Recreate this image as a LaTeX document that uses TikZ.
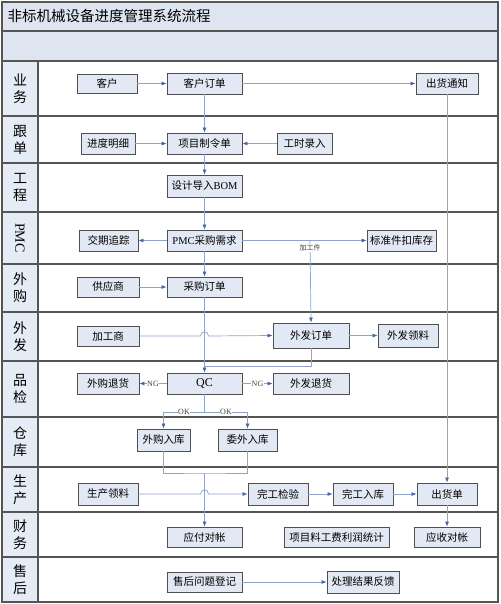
\documentclass[tikz,border=0pt]{standalone}
\usepackage{fontspec}
\setmainfont{Liberation Serif}
\newfontfamily\cjk{Noto Sans CJK SC}
\usetikzlibrary{arrows.meta}

\definecolor{boxfill}{HTML}{E3E9F4}
\definecolor{boxline}{HTML}{505050}
\definecolor{flowline}{HTML}{8FA4C8}
\definecolor{tipblue}{HTML}{4466AA}
\definecolor{bandfill}{HTML}{DEE5F1}
\definecolor{lanefill}{HTML}{E6ECF6}
\definecolor{laneline}{HTML}{555555}

\tikzset{
  box/.style={draw=boxline, fill=boxfill, line width=0.8pt, inner sep=1pt,
    minimum height=21pt, font=\cjk\fontsize{10.5}{12}\selectfont},
  flow/.style={draw=flowline, line width=0.7pt,
    -{Latex[length=5pt,width=4pt,color=tipblue]}},
  link/.style={draw=flowline, line width=0.7pt},
  tag/.style={fill=white, inner sep=0.6pt, text=black!75,
    font=\fontsize{8}{9}\selectfont},
  lanelabel/.style={align=center, font=\cjk\fontsize{14}{17}\selectfont},
}

\begin{document}
\begin{tikzpicture}[x=1pt, y=-1pt]
  \useasboundingbox (0,0) rectangle (500,604);

  % bands and lanes
  \fill[bandfill] (2,2) rectangle (498,61);
  \fill[lanefill] (2,61) rectangle (38,602);
  \node[anchor=west, font=\cjk\fontsize{14.5}{17}\selectfont] (title) at (4,16) {非标机械设备进度管理系统流程};
  \draw[laneline, line width=1.2pt] (2,31) -- (498,31);
  \foreach \ytop/\ybot/\lname in {61/116/业\\务, 116/163/跟\\单, 163/212/工\\程,
      264/312/外\\购, 312/361/外\\发, 361/417/品\\检, 417/467/仓\\库,
      467/512/生\\产, 512/557/财\\务, 557/602/售\\后}{
    \draw[laneline, line width=1.3pt] (2,\ytop) -- (498,\ytop);
    \node[lanelabel] at (20,{(\ytop+\ybot)/2}) {\lname};
  }
  \draw[laneline, line width=1.3pt] (2,212) -- (498,212);
  \node[rotate=-90, font=\fontsize{14}{16}\selectfont] (pmclane) at (20,238) {PMC};
  \draw[laneline, line width=1.2pt] (38,61) -- (38,602);
  \draw[laneline, line width=1.4pt] (2,2) rectangle (498,602);

  % boxes
  \node[box, minimum width=60pt, minimum height=19pt] (kh) at (107,83.5) {客户};
  \node[box, minimum width=75pt] (khdd) at (204.5,83.5) {客户订单};
  \node[box, minimum width=62pt] (chtz) at (447,83.5) {出货通知};

  \node[box, minimum width=54pt] (jdmx) at (108,143.5) {进度明细};
  \node[box, minimum width=75pt] (xmzld) at (204.5,143.5) {项目制令单};
  \node[box, minimum width=55pt] (gslr) at (304.5,143.5) {工时录入};

  \node[box, minimum width=75pt, minimum height=22pt] (sjbom) at (204.5,186) {设计导入{\rmfamily BOM}};

  \node[box, minimum width=59pt] (jqzz) at (108.5,240.5) {交期追踪};
  \node[box, minimum width=75pt] (pmccg) at (204.5,240.5) {{\rmfamily PMC}采购需求};
  \node[box, minimum width=69pt] (bzj) at (401.5,240.5) {标准件扣库存};

  \node[box, minimum width=62pt, minimum height=20pt] (gys) at (108,287) {供应商};
  \node[box, minimum width=75pt, minimum height=20pt] (cgdd) at (204.5,287) {采购订单};

  \node[box, minimum width=62pt, minimum height=20pt] (jgs) at (108,336) {加工商};
  \node[box, minimum width=76pt, minimum height=25pt] (wfdd) at (311,335.5) {外发订单};
  \node[box, minimum width=60pt, minimum height=23pt] (wfll) at (408,335.5) {外发领料};

  \node[box, minimum width=62pt] (wgth) at (108,383.5) {外购退货};
  \node[box, minimum width=75pt, font=\fontsize{12}{14}\selectfont] (qc) at (204.5,383.5) {QC};
  \node[box, minimum width=76pt] (wfth) at (311,383.5) {外发退货};

  \node[box, minimum width=53pt, minimum height=22pt] (wgrk) at (163.5,440) {外购入库};
  \node[box, minimum width=59pt, minimum height=22pt] (wwrk) at (247.5,440) {委外入库};

  \node[box, minimum width=60pt, minimum height=22pt] (scll) at (108,494) {生产领料};
  \node[box, minimum width=60pt, minimum height=22pt] (wgjy) at (278,494) {完工检验};
  \node[box, minimum width=60pt, minimum height=22pt] (wgrk2) at (363,494) {完工入库};
  \node[box, minimum width=60pt, minimum height=22pt] (chd) at (447,494) {出货单};

  \node[box, minimum width=75pt, minimum height=20pt] (yfdz) at (204.5,537) {应付对帐};
  \node[box, minimum width=105pt, minimum height=20pt] (xmtj) at (336.5,537) {项目料工费利润统计};
  \node[box, minimum width=66pt, minimum height=20pt] (yszd) at (447,537) {应收对帐};

  \node[box, minimum width=75pt, minimum height=20pt] (shdj) at (204.5,582) {售后问题登记};
  \node[box, minimum width=72pt, minimum height=22pt] (cljg) at (363,582) {处理结果反馈};

  % junctions
  \coordinate (jgj) at (310,240.5);
  \coordinate (wfback) at (204.5,366);
  \coordinate (qcsplit) at (204.5,412);
  \coordinate (rkmerge) at (204.5,473);

  % flows
  \draw[flow] (kh) -- (khdd);
  \draw[flow] (khdd) -- (chtz);
  \draw[flow] (khdd) -- (xmzld);
  \draw[flow] (jdmx) -- (xmzld);
  \draw[flow] (gslr) -- (xmzld);
  \draw[flow] (xmzld) -- (sjbom);
  \draw[flow] (sjbom) -- (pmccg);
  \draw[flow] (pmccg) -- (jqzz);
  \draw[flow] (pmccg) -- (bzj);
  \draw[flow] (jgj) -- node[tag, pos=0.09] {\cjk\fontsize{7}{8}\selectfont 加工件} (wfdd.north);
  \draw[flow] (pmccg) -- (cgdd);
  \draw[flow] (gys) -- (cgdd);
  \draw[flow] (cgdd) -- (qc);
  \draw[flow] (jgs.east) -- (200.5,336) .. controls (200.5,330.5) and (208.5,330.5) .. (208.5,336) -- (wfdd.west);
  \draw[flow] (wfdd) -- (wfll);
  \draw[link] (wfdd.south) |- (wfback);
  \draw[flow] (qc) -- node[tag] {NG} (wgth);
  \draw[flow] (qc) -- node[tag] {NG} (wfth);
  \draw[link] (qc) -- (qcsplit);
  \draw[flow] (qcsplit) -| node[tag, pos=0.25] {OK} (wgrk.north);
  \draw[flow] (qcsplit) -| node[tag, pos=0.25] {OK} (wwrk.north);
  \draw[link] (wgrk.south) |- (rkmerge) -| (wwrk.south);
  \draw[flow] (rkmerge) -- (yfdz);
  \draw[flow] (scll.east) -- (200.5,494) .. controls (200.5,488.5) and (208.5,488.5) .. (208.5,494) -- (wgjy.west);
  \draw[flow] (wgjy) -- (wgrk2);
  \draw[flow] (wgrk2) -- (chd);
  \draw[flow] (chtz) -- (chd);
  \draw[flow] (chd) -- (yszd);
  \draw[flow] (shdj) -- (cljg);
\end{tikzpicture}
\end{document}
